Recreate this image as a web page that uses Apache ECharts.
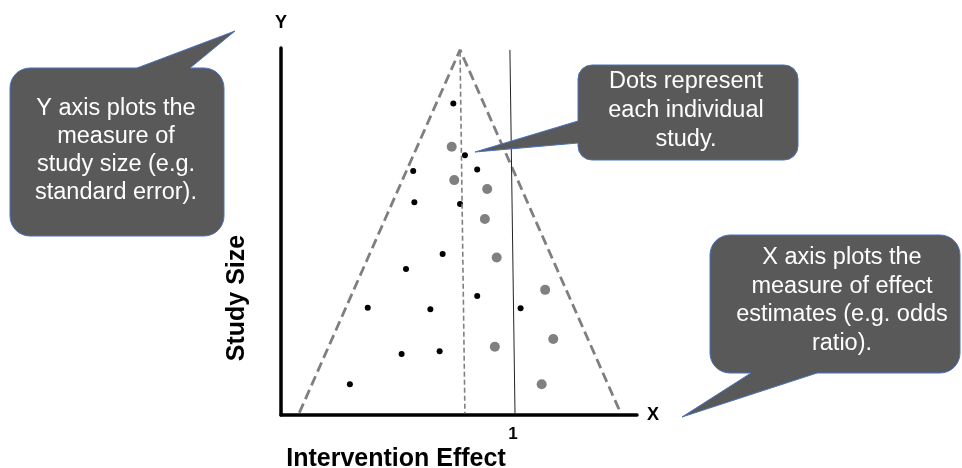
<!DOCTYPE html>
<html>
<head>
<meta charset="utf-8">
<script src="https://cdn.jsdelivr.net/npm/echarts@6/dist/echarts.min.js"></script>
<style>
html,body{margin:0;padding:0;background:#fff;}
#chart{width:962px;height:468px;}
</style>
</head>
<body>
<div id="chart"></div>
<script>
// ---- data (effect estimate, study size) ----
const smallStudyDots = [
  [0.743, 84.9], [0.793, 70.8], [0.570, 66.5], [0.846, 66.9], [0.575, 58.0],
  [0.772, 57.5], [0.697, 43.9], [0.539, 39.8], [0.846, 32.4], [0.374, 29.2],
  [0.644, 28.8], [1.033, 29.1], [0.520, 16.6], [0.684, 17.4], [0.297, 8.4]
];
const largeStudyDots = [
  [0.736, 73.1], [0.747, 64.0], [0.889, 61.6], [0.879, 53.4], [0.930, 42.9],
  [1.139, 34.1], [1.174, 20.7], [0.922, 18.6], [1.124, 8.4]
];
const funnelOutline = [[0.079, 0.6], [0.772, 99.5], [1.464, 0.6]];
const pooledEffectLine = [[0.772, 99.0], [0.793, 0.5]];
const noEffectLine = [[0.987, 99.5], [1.009, 0.5]];
const xTickLabels = ['1'];
const xTickValues = [1];
const axisLabels = { x: 'X', y: 'Y', xTitle: 'Intervention Effect', yTitle: 'Study Size' };
const calloutTexts = [
  'Y axis plots the\nmeasure of\nstudy size (e.g.\nstandard error).',
  'Dots represent\neach individual\nstudy.',
  'X axis plots the\nmeasure of effect\nestimates (e.g. odds\nratio).'
];

const FONT = '"Liberation Sans", Arial, sans-serif';
const BOX_FILL = '#595959';
const BOX_STROKE = '#4a72c0';

function callout(rect, r, tailPoly, tailEdges, text, tx, ty, lh) {
  return [
    { type: 'rect', z: 100, shape: { x: rect[0], y: rect[1], width: rect[2], height: rect[3], r: r },
      style: { fill: BOX_FILL, stroke: BOX_STROKE, lineWidth: 1 } },
    { type: 'polygon', z: 101, shape: { points: tailPoly }, style: { fill: BOX_FILL } },
    { type: 'polyline', z: 102, shape: { points: tailEdges }, style: { stroke: BOX_STROKE, lineWidth: 1, fill: null } },
    { type: 'text', z: 103, x: tx, y: ty,
      style: { text: text, fill: '#ffffff', fontSize: 23.5, fontFamily: FONT, align: 'center', verticalAlign: 'middle', lineHeight: lh } }
  ];
}

const graphics = [].concat(
  callout([10, 68, 214, 168], 20,
    [[137, 68], [235, 31], [190, 68], [190, 71], [137, 71]],
    [[137, 68], [235, 31], [190, 68]],
    calloutTexts[0], 116, 150.5, 28.3),
  callout([578, 65, 220, 95], 14,
    [[578, 121], [475, 152], [578, 143], [581, 143], [581, 121]],
    [[578, 121], [475, 152], [578, 143]],
    calloutTexts[1], 686, 111, 29),
  callout([710, 235, 250, 138], 20,
    [[817, 373], [682, 417], [751, 373], [751, 370], [817, 370]],
    [[817, 373], [682, 417], [751, 373]],
    calloutTexts[2], 842, 300.5, 28.7),
  [
    { type: 'text', x: 396, y: 459,
      style: { text: axisLabels.xTitle, fill: '#000', fontSize: 25, fontWeight: 'bold', fontFamily: FONT, align: 'center', verticalAlign: 'middle' } },
    { type: 'text', x: 237, y: 298, rotation: Math.PI / 2,
      style: { text: axisLabels.yTitle, fill: '#000', fontSize: 25, fontWeight: 'bold', fontFamily: FONT, align: 'center', verticalAlign: 'middle' } }
  ]
);

const chart = echarts.init(document.getElementById('chart'));
chart.setOption({
  animation: false,
  backgroundColor: '#ffffff',
  grid: { left: 281, top: 48, right: 325, bottom: 53, containLabel: false },
  xAxis: {
    type: 'value', min: 0, max: 1.535, interval: 1,
    name: axisLabels.x, nameLocation: 'end', nameGap: 10,
    nameTextStyle: { color: '#000', fontSize: 18, fontWeight: 'bold', fontFamily: FONT, padding: [0, 0, 6, 0] },
    axisLine: { show: true, lineStyle: { color: '#000', width: 3.5 } },
    axisTick: { show: false },
    splitLine: { show: false },
    axisLabel: {
      color: '#000', fontSize: 17, fontWeight: 'bold', fontFamily: FONT, margin: 11,
      showMinLabel: true, showMaxLabel: true,
      formatter: function (v) { const i = xTickValues.indexOf(v); return i >= 0 ? xTickLabels[i] : ''; }
    }
  },
  yAxis: {
    type: 'value', min: 0, max: 100,
    name: axisLabels.y, nameLocation: 'end', nameGap: 16,
    nameTextStyle: { color: '#000', fontSize: 18, fontWeight: 'bold', fontFamily: FONT },
    axisLine: { show: true, lineStyle: { color: '#000', width: 3.5 } },
    axisTick: { show: false },
    axisLabel: { show: false },
    splitLine: { show: false }
  },
  series: [
    { type: 'line', data: funnelOutline, symbol: 'none', silent: true,
      lineStyle: { color: '#7f7f7f', width: 2.8, type: [10, 5] } },
    { type: 'line', data: pooledEffectLine, symbol: 'none', silent: true,
      lineStyle: { color: '#7f7f7f', width: 1.6, type: [5, 3] } },
    { type: 'line', data: noEffectLine, symbol: 'none', silent: true,
      lineStyle: { color: '#222', width: 1 } },
    { type: 'scatter', data: largeStudyDots, symbolSize: 10, itemStyle: { color: '#808080', opacity: 1 } },
    { type: 'scatter', data: smallStudyDots, symbolSize: 6, itemStyle: { color: '#000', opacity: 1 } }
  ],
  graphic: { elements: graphics }
});
</script>
</body>
</html>
